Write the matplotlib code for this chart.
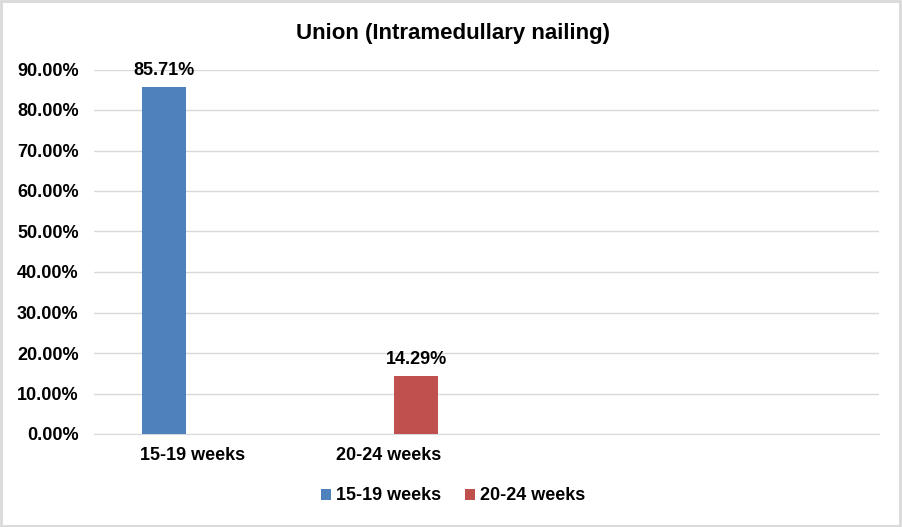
import matplotlib
matplotlib.use('Agg')
import matplotlib.pyplot as plt
import numpy as np
from matplotlib.patches import Rectangle
from matplotlib.ticker import FuncFormatter, MultipleLocator

categories = ['15-19 weeks', '20-24 weeks', '', '']
series_names = ['15-19 weeks', '20-24 weeks']
blue_values = [0.8571, np.nan, np.nan, np.nan]
red_values = [np.nan, 0.1429, np.nan, np.nan]

BLUE = '#4f81bd'
RED = '#c0504d'
GRID = '#d9d9d9'

plt.rcParams['font.family'] = ['Liberation Sans', 'DejaVu Sans']
plt.rcParams['font.weight'] = 'bold'


def plot():
    fig = plt.figure(figsize=(9.02, 5.27), dpi=100)
    ax = fig.add_axes([94 / 902, 1 - 434 / 527, (879 - 94) / 902, (434 - 69.5) / 527])

    x = np.arange(len(categories))
    width = 0.224
    offset = 0.142
    bars_b = ax.bar(x - offset, blue_values, width, color=BLUE, label=series_names[0], zorder=3)
    bars_r = ax.bar(x + offset, red_values, width, color=RED, label=series_names[1], zorder=3)

    for bars, vals in ((bars_b, blue_values), (bars_r, red_values)):
        for b, v in zip(bars, vals):
            if np.isnan(v):
                continue
            ax.annotate(f'{v * 100:.2f}%', (b.get_x() + b.get_width() / 2, v),
                        xytext=(0, 6), textcoords='offset points',
                        ha='center', va='bottom', fontsize=13, fontweight='bold')

    ax.set_xlim(-0.5, len(categories) - 0.5)
    ax.set_ylim(0, 0.9)
    ax.yaxis.set_major_locator(MultipleLocator(0.1))
    ax.yaxis.set_major_formatter(FuncFormatter(lambda v, _: f'{v * 100:.2f}%'))
    ax.set_xticks(x)
    ax.set_xticklabels(categories)
    ax.tick_params(axis='both', length=0, labelsize=13)
    ax.tick_params(axis='x', pad=9)
    ax.tick_params(axis='y', pad=11)
    for lbl in ax.get_xticklabels() + ax.get_yticklabels():
        lbl.set_fontweight('bold')

    ax.grid(axis='y', color=GRID, lw=1, zorder=0)
    for side in ('left', 'right', 'top'):
        ax.spines[side].set_visible(False)
    ax.spines['bottom'].set_color(GRID)

    fig.text(453 / 902, 1 - 39 / 527, 'Union (Intramedullary nailing)', ha='center',
             va='baseline', fontsize=16, fontweight='bold')

    fig.legend(handles=[bars_b, bars_r], labels=series_names, loc='center',
               bbox_to_anchor=(453 / 902, 1 - 496 / 527), ncol=2, frameon=False,
               handlelength=0.55, handleheight=0.55, handletextpad=0.3,
               columnspacing=1.3, prop={'weight': 'bold', 'size': 13})

    fig.patches.append(Rectangle((0.001, 0.002), 0.997, 0.996, transform=fig.transFigure,
                                 fill=False, edgecolor=GRID, lw=2))

    fig.savefig('out.png', dpi=100, facecolor='white')


if __name__ == '__main__':
    plot()
